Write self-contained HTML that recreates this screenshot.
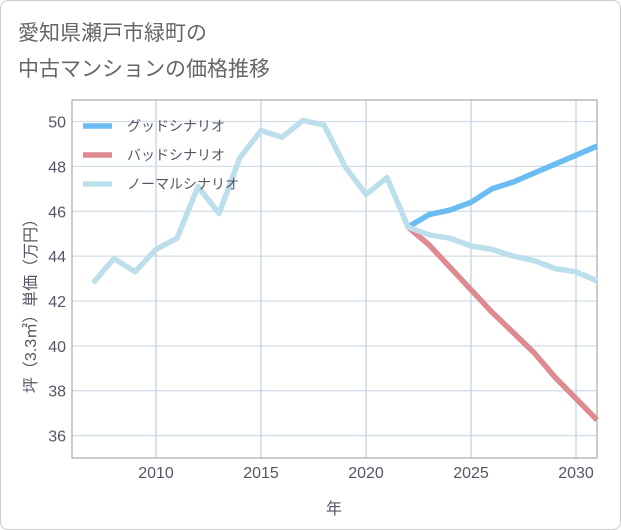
<!DOCTYPE html>
<html><head><meta charset="utf-8"><style>
body{margin:0;background:#fff;font-family:"Liberation Sans","Noto Sans CJK JP",sans-serif;}
#wrap{position:relative;width:619px;height:528px;border:1px solid #ccc;border-radius:8px;overflow:hidden;background:#fff}
</style></head><body>
<div id="wrap">
<svg id="c" width="621" height="530" style="position:absolute;left:-1px;top:-1px"></svg>
</div>
<script>
const normalYears=[2007,2008,2009,2010,2011,2012,2013,2014,2015,2016,2017,2018,2019,2020,2021,2022,2023,2024,2025,2026,2027,2028,2029,2030,2031];
const normalValues=[42.8,43.9,43.3,44.3,44.8,47.1,45.9,48.4,49.6,49.3,50.05,49.85,48.0,46.75,47.5,45.3,44.95,44.8,44.45,44.3,44.0,43.8,43.45,43.3,42.9];
const scenYears=[2022,2023,2024,2025,2026,2027,2028,2029,2030,2031];
const goodValues=[45.3,45.85,46.05,46.4,47.0,47.3,47.7,48.1,48.5,48.9];
const badValues=[45.3,44.5,43.5,42.5,41.5,40.6,39.7,38.6,37.65,36.7];
const xTicks=[2010,2015,2020,2025,2030];
const yTicks=[36,38,40,42,44,46,48,50];
const NS="http://www.w3.org/2000/svg";
const svg=document.getElementById('c');
const X0=72,X1=597,Y0=100,Y1=458;
const xs=v=>X0+(v-2006)/(2031-2006)*(X1-X0);
const ys=v=>Y1-(v-35)/(50.96-35)*(Y1-Y0);
function mk(t,a,p){const e=document.createElementNS(NS,t);for(const k in a)e.setAttribute(k,a[k]);(p||svg).appendChild(e);return e;}
function txt(s,a){const e=mk('text',a);e.textContent=s;return e;}
const t1=txt('愛知県瀬戸市緑町の',{x:18,y:40,'font-size':21,fill:'#666'});


const t2=txt('中古マンションの価格推移',{x:18,y:76,'font-size':21,fill:'#666'});


for(const y of yTicks){const l=mk('line',{x1:X0,x2:X1,y1:ys(y),y2:ys(y),stroke:'#d3dee7','stroke-width':1.3});
const t=txt(y,{x:66,y:ys(y)+6,'text-anchor':'end','font-size':16,fill:'#556'});}
for(const x of xTicks){const l=mk('line',{x1:xs(x),x2:xs(x),y1:Y0,y2:Y1,stroke:'#c5d3df','stroke-width':1.3});
const t=txt(x,{x:xs(x),y:478,'text-anchor':'middle','font-size':16,fill:'#556'});}
const fr=mk('rect',{x:X0,y:Y0,width:X1-X0,height:Y1-Y0,fill:'none',stroke:'#999','stroke-width':1});

const xt=txt('年',{x:334,y:514,'text-anchor':'middle','font-size':16,fill:'#556'});

const yt=txt('坪（3.3㎡）単価（万円）',{x:0,y:0,'text-anchor':'middle','font-size':16,fill:'#556',transform:'translate(36,302) rotate(-90)'});

function line(xv,yv,color,name){const d=xv.map((x,i)=>(i?'L':'M')+xs(x).toFixed(1)+','+ys(yv[i]).toFixed(1)).join('');
const p=mk('path',{d:d,fill:'none',stroke:color,'stroke-width':5.5,'stroke-linejoin':'round'});}
line(scenYears,badValues,'#de8a90','bad-scenario-line');
line(scenYears,goodValues,'#6bbcf2','good-scenario-line');
line(normalYears,normalValues,'#bddfec','normal-scenario-line');
const leg=[['グッドシナリオ','#6bbcf2',126],['バッドシナリオ','#de8a90',155],['ノーマルシナリオ','#bddfec',184]];
for(const [n,c,y] of leg){const l=mk('line',{x1:83,x2:112,y1:y,y2:y,stroke:c,'stroke-width':5.5});
const t=txt(n,{x:127,y:y+5,'font-size':14,fill:'#556'});}
</script>
</body></html>
